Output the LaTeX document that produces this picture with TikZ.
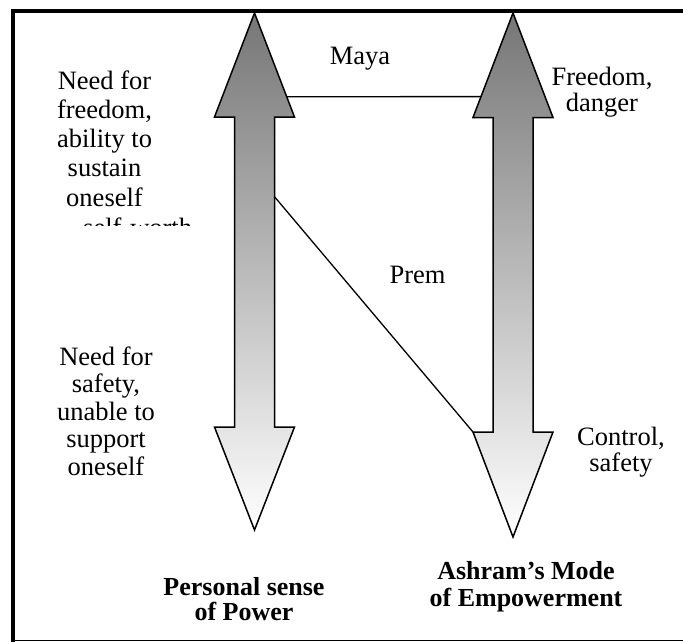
\documentclass[tikz,border=0pt]{standalone}
\usepackage{fontspec}
\setmainfont{Liberation Serif}
\usetikzlibrary{calc}
\begin{document}
\begin{tikzpicture}[x=1pt,y=-1pt,
  bigarrow/.style={draw=black, line width=1.5pt, line join=miter,
    top color={rgb,255:red,118;green,118;blue,118}, bottom color=white},
  link/.style={draw=black, line width=1.3pt},
  frame/.style={draw=black, line cap=rect},
  lbl/.style={font=\fontsize{26.5}{29.2}\selectfont, align=center, anchor=base, inner sep=0pt},
  blbl/.style={font=\fontsize{26}{25}\selectfont\bfseries, align=center, anchor=base, inner sep=0pt}]
\useasboundingbox (0,0) rectangle (683,642);
% frame
\draw[frame, line width=4pt] (12.5,11.3) -- (683,11.3);
\draw[frame, line width=4pt] (12.5,11.3) -- (12.5,642);
\draw[frame, line width=1.6pt] (12.5,640.3) -- (683,640.3);
% left arrow
\coordinate (Atip) at (254.5,13);
\coordinate (AheadR) at (294.5,117);
\coordinate (Abot) at (254.5,530);
\path[bigarrow] (Atip) -- (AheadR) -- (274.5,117) -- (274.5,427) -- (294.5,427) -- (Abot)
  -- (214.5,427) -- (234.5,427) -- (234.5,117) -- (214.5,117) -- cycle;
% right arrow
\coordinate (Btip) at (513,13);
\coordinate (BheadL) at (473,117.5);
\coordinate (Bbot) at (513,537);
\coordinate (BbotL) at (473,432);
\path[bigarrow] (Btip) -- (553,117.5) -- (533,117.5) -- (533,432) -- (553,432) -- (Bbot)
  -- (BbotL) -- (493,432) -- (493,117.5) -- (BheadL) -- cycle;
% connectors
\coordinate (mayaL) at ($(Atip)!0.805!(AheadR)$);
\coordinate (mayaR) at ($(Btip)!0.80!(BheadL)$);
\coordinate (premA) at (274.5,196.7);
\draw[link] (mayaL) -- (mayaR);
\draw[link] (premA) -- (BbotL);
% labels (anchor=base is the baseline of the last line)
\node[lbl] (maya) at (360,65) {Maya};
\node[lbl] (prem) at (417.5,283.3) {Prem};
\node[lbl] (needfree) at (104.5,206) {Need for\\freedom,\\ability to\\sustain\\oneself};
\begin{scope}
  \clip (40,200) rectangle (200,225.5);
  \node[lbl, anchor=base west] (frag) at (83,236) {self-worth};
\end{scope}
\node[lbl, font=\fontsize{26.5}{27.5}\selectfont] (needsafe) at (106,475) {Need for\\safety,\\unable to\\support\\oneself};
\node[lbl, font=\fontsize{26.5}{26.7}\selectfont] (freedom) at (602,111.7) {Freedom,\\danger};
\node[lbl, font=\fontsize{26.5}{26}\selectfont] (control) at (621,471) {Control,\\safety};
\node[blbl] (personal) at (244,620) {Personal sense\\of Power};
\node[blbl, font=\fontsize{26}{27}\selectfont\bfseries] (ashram) at (526,606) {Ashram’s Mode\\of Empowerment};
\end{tikzpicture}
\end{document}
